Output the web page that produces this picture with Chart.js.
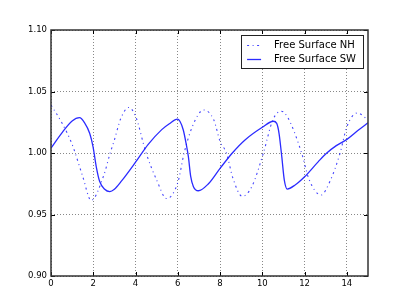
<!DOCTYPE html>
<html>
<head>
<meta charset="utf-8">
<script src="https://cdn.jsdelivr.net/npm/chart.js@4/dist/chart.umd.min.js"></script>
<style>
  html, body { margin: 0; padding: 0; background: #fff; }
  #wrap { width: 409px; height: 307px; }
</style>
</head>
<body>
<div id="wrap"><canvas id="myChart" width="409" height="307"></canvas></div>
<script>
'use strict';
// values
let nhX = [0, 0.5, 1, 1.5, 1.9, 2.5, 2.8, 3, 3.3, 3.68, 4, 4.5, 5, 5.47, 6, 6.3, 6.7, 7.22, 7.7, 8, 8.3, 8.6, 9.05, 9.5, 10.05, 10.5, 10.9, 11.2, 11.86, 12.2, 12.78, 13.2, 13.68, 14, 14.5, 15]
let nhY = [1.039, 1.025, 1.007, 0.981, 0.9615, 0.982, 1.000, 1.0106, 1.028, 1.037, 1.030, 1.000, 0.978, 0.963, 0.976, 1.000, 1.022, 1.035, 1.027, 1.0095, 1.000, 0.980, 0.9648, 0.9726, 1.000, 1.027, 1.034, 1.029, 1.000, 0.979, 0.9659, 0.977, 1.000, 1.0214, 1.0325, 1.027]

let swX = [0, 0.5, 1, 1.35, 1.59, 1.83, 1.99, 2.14, 2.3, 2.54, 2.78, 3, 3.35, 4, 4.6, 5.24, 5.6, 5.98, 6.1, 6.26, 6.39, 6.5, 6.61, 6.74, 6.97, 7.44, 8, 8.58, 9.18, 10, 10.52, 10.68, 10.79, 10.92, 11.04, 11.18, 11.55, 12, 12.65, 13.05, 13.5, 14, 14.55, 15]
let swY = [1.004, 1.016, 1.026, 1.0287, 1.0245, 1.016, 1.005, 0.989, 0.977, 0.9705, 0.9686, 0.9705, 0.9775, 0.9925, 1.007, 1.019, 1.0238, 1.0275, 1.0258, 1.0187, 1.008, 0.997, 0.981, 0.9726, 0.9693, 0.9748, 0.9875, 1.000, 1.0106, 1.0209, 1.0258, 1.0241, 1.016, 0.997, 0.978, 0.9707, 0.974, 0.9807, 0.993, 1.000, 1.006, 1.0111, 1.0187, 1.0246]

let seriesNames = ['Free Surface NH', 'Free Surface SW']
let xTicks = [0, 2, 4, 6, 8, 10, 12, 14]
let yTicks = [0.90, 0.95, 1.00, 1.05, 1.10]

function toPoints(xs, ys) {
    let pts = []
    for (let i = 0; i < xs.length; i++) {
        pts.push({ x: xs[i], y: ys[i] })
    }
    return pts
}

// frame round the plot, inward tick marks and the boxed legend
let framePlugin = {
    id: 'frame',
    afterDraw(chart) {
        let ctx = chart.ctx
        let a = chart.chartArea
        let xs = chart.scales.x
        let ys = chart.scales.y
        ctx.save()
        ctx.strokeStyle = '#000'
        ctx.lineWidth = 1
        ctx.beginPath()
        for (let v of xTicks) {
            let px = Math.round(xs.getPixelForValue(v)) + 0.5
            ctx.moveTo(px, a.bottom); ctx.lineTo(px, a.bottom - 4)
            ctx.moveTo(px, a.top); ctx.lineTo(px, a.top + 4)
        }
        for (let v of yTicks) {
            let py = Math.round(ys.getPixelForValue(v)) + 0.5
            ctx.moveTo(a.left, py); ctx.lineTo(a.left + 4, py)
            ctx.moveTo(a.right, py); ctx.lineTo(a.right - 4, py)
        }
        ctx.stroke()
        ctx.strokeStyle = '#333'
        ctx.lineWidth = 1.5
        ctx.strokeRect(a.left, a.top, a.right - a.left, a.bottom - a.top)

        // legend
        ctx.font = '10px "DejaVu Sans"'
        let textW = 0
        for (let n of seriesNames) textW = Math.max(textW, ctx.measureText(n).width)
        let right = Math.round(a.right) - 5
        let top = Math.round(a.top) + 5
        let left = right - (7 + textW + 13 + 14 + 6)
        let h = 33
        ctx.fillStyle = '#fff'
        ctx.fillRect(left, top, right - left, h)
        ctx.lineWidth = 1
        ctx.strokeStyle = '#222'
        ctx.strokeRect(Math.round(left) + 0.5, top + 0.5, Math.round(right - left), h)
        let ds = chart.data.datasets
        for (let i = 0; i < ds.length; i++) {
            let cy = top + 10.5 + i * 14
            ctx.beginPath()
            ctx.setLineDash(ds[i].borderDash || [])
            ctx.strokeStyle = ds[i].borderColor
            ctx.lineWidth = ds[i].borderWidth
            ctx.moveTo(left + 6, cy)
            ctx.lineTo(left + 20, cy)
            ctx.stroke()
            ctx.setLineDash([])
            ctx.fillStyle = '#000'
            ctx.textBaseline = 'middle'
            ctx.textAlign = 'left'
            ctx.fillText(ds[i].label, left + 33, cy)
        }
        ctx.restore()
    }
}

let ctx = document.getElementById('myChart').getContext('2d')
let myChart = new Chart(ctx, {
    type: 'line',
    data: {
        datasets: [{
            label: seriesNames[0],
            data: toPoints(nhX, nhY),
            borderColor: 'rgba(20, 20, 255, 0.8)',
            backgroundColor: 'rgba(20, 20, 255, 0.8)',
            borderWidth: 1.1,
            borderDash: [2, 3.5, 1, 3.5],
            pointRadius: 0,
            cubicInterpolationMode: 'monotone',
            fill: false
        }, {
            label: seriesNames[1],
            data: toPoints(swX, swY),
            borderColor: '#2b2bff',
            backgroundColor: '#2b2bff',
            borderWidth: 1.3,
            pointRadius: 0,
            cubicInterpolationMode: 'monotone',
            fill: false
        }]
    },
    plugins: [framePlugin],
    options: {
        responsive: false,
        animation: false,
        layout: { padding: { left: 0, right: 41, top: 30, bottom: 0 } },
        plugins: {
            tooltip: { enabled: false },
            legend: { display: false }
        },
        scales: {
            x: {
                type: 'linear',
                min: 0,
                max: 15,
                afterBuildTicks(scale) { scale.ticks = xTicks.map(v => ({ value: v })) },
                afterFit(scale) { scale.height = 31 },
                border: { display: false, dash: [1, 2] },
                grid: { color: '#888', lineWidth: 1, drawTicks: false },
                ticks: {
                    color: '#000',
                    padding: 3,
                    maxRotation: 0,
                    autoSkip: false,
                    font: { family: 'DejaVu Sans', size: 8.5 },
                    callback: v => String(v)
                }
            },
            y: {
                type: 'linear',
                min: 0.9,
                max: 1.1,
                afterBuildTicks(scale) { scale.ticks = yTicks.map(v => ({ value: v })) },
                afterFit(scale) { scale.width = 51 },
                border: { display: false, dash: [1, 2] },
                grid: { color: '#888', lineWidth: 1, drawTicks: false },
                ticks: {
                    color: '#000',
                    padding: 4,
                    autoSkip: false,
                    font: { family: 'DejaVu Sans', size: 8.5 },
                    callback: v => v.toFixed(2)
                }
            }
        }
    }
})
</script>
</body>
</html>
